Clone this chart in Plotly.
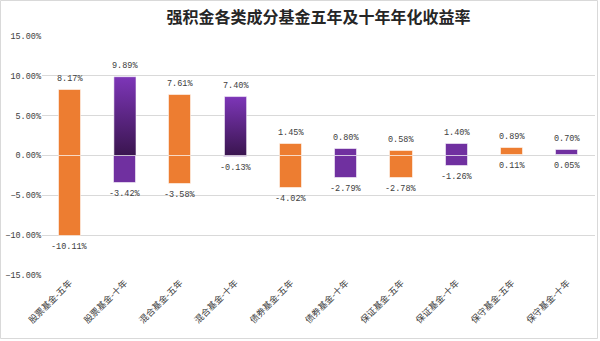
import plotly.graph_objects as go

# ---- data ----
categories = ["股票基金-五年", "股票基金-十年", "混合基金-五年", "混合基金-十年",
              "债券基金-五年", "债券基金-十年", "保证基金-五年", "保证基金-十年",
              "保守基金-五年", "保守基金-十年"]
high_values = [8.17, 9.89, 7.61, 7.40, 1.45, 0.80, 0.58, 1.40, 0.89, 0.70]
low_values = [-10.11, -3.42, -3.58, -0.13, -4.02, -2.79, -2.78, -1.26, 0.11, 0.05]
y_ticks = [15, 10, 5, 0, -5, -10, -15]

# ---- style ----
W, H = 600, 341
ML, MR, MT, MB = 42, 5, 36, 66
ORANGE = "#ED7D31"
PURPLE = "#7030A0"
GRAD_DARK = "#3A154F"
GRAD_LIGHT = "#7D36B8"
EDGE = "rgba(255,255,255,0.55)"
BAR_W = 0.4
gradient_idx = {1, 3}
NUM_FONT = "Liberation Mono, Noto Sans CJK SC, monospace"
CJK_FONT = "Noto Sans CJK SC, sans-serif"
TXT = "#404040"

idx = list(range(len(categories)))
colors = [ORANGE if "五年" in c else PURPLE for c in categories]

fig = go.Figure()

pos_x, pos_base, pos_len, pos_col = [], [], [], []
neg_x, neg_base, neg_len, neg_col = [], [], [], []
for i, (h, l, c) in enumerate(zip(high_values, low_values, colors)):
    lo_p = max(l, 0)
    if h > lo_p and i not in gradient_idx:
        pos_x.append(i); pos_base.append(lo_p / 100); pos_len.append((h - lo_p) / 100); pos_col.append(c)
    hi_n = min(h, 0)
    if l < hi_n:
        neg_x.append(i); neg_base.append(l / 100); neg_len.append((hi_n - l) / 100); neg_col.append(c)

fig.add_trace(go.Bar(x=pos_x, y=pos_len, base=pos_base, width=BAR_W,
                     marker=dict(color=pos_col, line=dict(color=EDGE, width=1)),
                     hoverinfo="skip", showlegend=False))
fig.add_trace(go.Bar(x=neg_x, y=neg_len, base=neg_base, width=BAR_W,
                     marker=dict(color=neg_col, line=dict(color=EDGE, width=1)),
                     hoverinfo="skip", showlegend=False))

for i in sorted(gradient_idx):
    h = high_values[i] / 100
    x0, x1 = i - BAR_W / 2, i + BAR_W / 2
    fig.add_trace(go.Scatter(
        x=[x0, x1, x1, x0, x0], y=[0, 0, h, h, 0],
        mode="lines", fill="toself",
        line=dict(color=EDGE, width=1),
        fillgradient=dict(type="vertical",
                          colorscale=[[0, GRAD_DARK], [1, GRAD_LIGHT]]),
        hoverinfo="skip", showlegend=False))

# labels
for i in idx:
    fig.add_annotation(x=i, y=high_values[i] / 100, text=f"{high_values[i]:.2f}%",
                       showarrow=False, yanchor="middle", yshift=11,
                       font=dict(family=NUM_FONT, size=8.5, color=TXT))
    fig.add_annotation(x=i, y=low_values[i] / 100, text=f"{low_values[i]:.2f}%",
                       showarrow=False, yanchor="middle", yshift=-11,
                       font=dict(family=NUM_FONT, size=8.5, color=TXT))

pw = W - ML - MR
ph = H - MT - MB
fig.add_shape(type="rect", xref="paper", yref="paper", layer="below",
              x0=-(ML - 0.5) / pw, x1=1 + (MR - 2.5) / pw,
              y0=-(MB - 2.5) / ph, y1=1 + (MT - 0.5) / ph,
              line=dict(color="#D9D9D9", width=1), fillcolor="rgba(0,0,0,0)")

fig.update_layout(
    width=W, height=H,
    margin=dict(l=ML, r=MR, t=MT, b=MB, pad=0),
    paper_bgcolor="white", plot_bgcolor="white",
    barmode="overlay", bargap=0,
    title=dict(text="<b>强积金各类成分基金五年及十年年化收益率</b>",
               x=0.5, xref="paper", xanchor="center",
               y=1 - 17 / H, yanchor="middle",
               font=dict(family=CJK_FONT, size=16, color="#262626")),
    xaxis=dict(range=[-0.5, len(categories) - 0.5], tickmode="array",
               tickvals=idx, ticktext=categories, tickangle=-45,
               showgrid=False, zeroline=False, showline=False, ticks="",
               tickfont=dict(family=CJK_FONT, size=9, color=TXT)),
    yaxis=dict(range=[-0.15, 0.15], tickmode="array",
               tickvals=[t / 100 for t in y_ticks], tickformat=".2%",
               showgrid=True, gridcolor="#D9D9D9", gridwidth=1,
               zeroline=False, showline=False, ticks="",
               tickfont=dict(family=NUM_FONT, size=8.5, color=TXT)),
)

fig.write_html("out.html")
